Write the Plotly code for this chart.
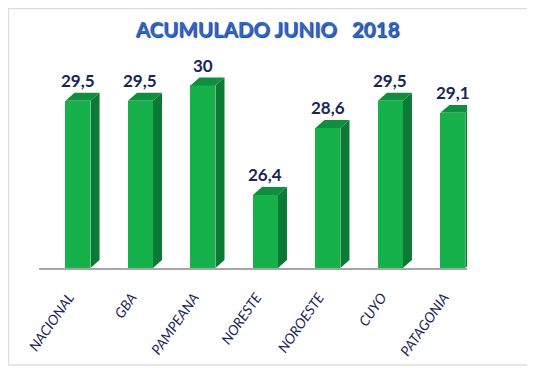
import plotly.graph_objects as go

categories = ["NACIONAL", "GBA", "PAMPEANA", "NORESTE", "NOROESTE", "CUYO", "PATAGONIA"]
values = [29.5, 29.5, 30.0, 26.4, 28.6, 29.5, 29.1]
title_text = "ACUMULADO JUNIO\u00a0\u00a0\u00a02018"

FRONT = "#17b14c"
SIDE = "#0a7a35"
TOP = "#0f8e3e"
NAVY = "#17255a"

Y_MIN, Y_MAX = 24, 31
HALF_W = 0.2       # half bar width (x data units)
DX = 0.145         # depth offset x (data units)
DY = 0.26          # depth offset y (data units)

xs = list(range(len(categories)))
labels = [f"{v:g}".replace(".", ",") for v in values]

fig = go.Figure()
fig.add_trace(go.Bar(x=xs, y=values, width=2 * HALF_W, marker=dict(color=FRONT, line=dict(width=0)),
                     hoverinfo="skip", showlegend=False))

shapes = []
for x, v in zip(xs, values):
    shapes.append(dict(type="path", xref="x", yref="y", layer="above",
                       path=f"M {x+HALF_W},{Y_MIN} L {x+HALF_W},{v} L {x+HALF_W+DX},{v+DY} L {x+HALF_W+DX},{Y_MIN+DY} Z",
                       fillcolor=SIDE, line=dict(width=0)))
    shapes.append(dict(type="path", xref="x", yref="y", layer="above",
                       path=f"M {x-HALF_W},{v} L {x+HALF_W},{v} L {x+HALF_W+DX},{v+DY} L {x-HALF_W+DX},{v+DY} Z",
                       fillcolor=TOP, line=dict(width=0)))

# chart border
shapes.append(dict(type="rect", xref="paper", yref="paper", x0=-0.0713, x1=1.152, y0=-0.455, y1=1.218,
                   line=dict(color="#dedede", width=1.5), fillcolor="rgba(0,0,0,0)", layer="below"))

annotations = []
for x, v, t in zip(xs, values, labels):
    annotations.append(dict(x=x, y=v + DY, text=t, showarrow=False, yanchor="bottom", xanchor="center",
                            yshift=0, font=dict(family="Lato", size=17, color=NAVY, weight="bold")))

fig.update_layout(
    width=527, height=360,
    margin=dict(l=31, r=68, t=47, b=100),
    paper_bgcolor="white", plot_bgcolor="white",
    title=dict(text=title_text, x=259.5 / 527, xref="container", xanchor="center", y=1 - 22 / 360,
               yref="container", yanchor="middle", automargin=False,
               font=dict(family="Lato", size=20.5, color="#2a68cc", weight="bold",
                         shadow="1px 1px 1px #1a3f80")),
    xaxis=dict(range=[-0.624, 6.226], tickvals=xs, ticktext=categories, tickangle=-55,
               showgrid=False, zeroline=False, showline=True, linecolor="#a6a6a6", linewidth=1.5,
               ticks="", ticklabelstandoff=14, ticklabelshift=-9, automargin=False,
               tickfont=dict(family="Lato", size=14, color=NAVY, style="italic")),
    yaxis=dict(range=[Y_MIN, Y_MAX], visible=False, showgrid=False, zeroline=False, automargin=False),
    shapes=shapes, annotations=annotations,
    bargap=0,
)

fig.write_html("out.html")
